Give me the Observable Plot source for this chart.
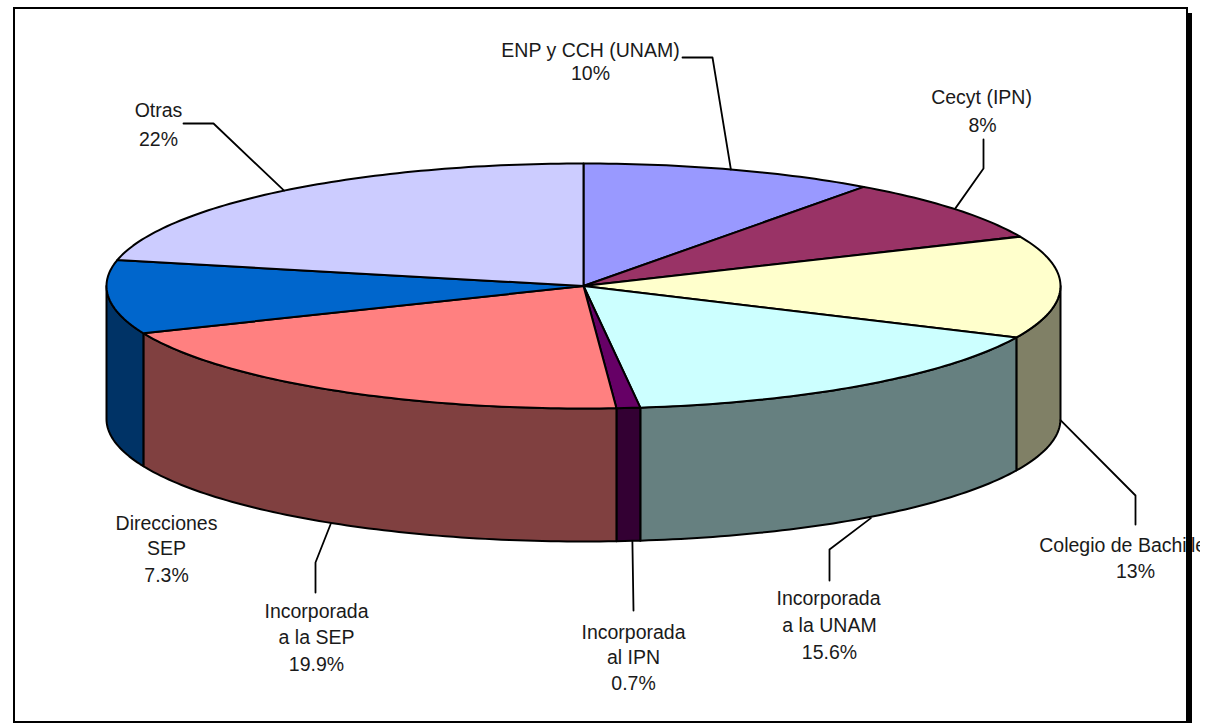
<!DOCTYPE html>
<html>
<head>
<meta charset="utf-8">
<script src="https://cdn.jsdelivr.net/npm/d3@7"></script>
<script src="https://cdn.jsdelivr.net/npm/@observablehq/plot@0.6"></script>
<style>
  html, body { margin: 0; padding: 0; background: #fff; overflow: hidden; }
  #chart { position: relative; width: 1205px; height: 723px; }
  #chart svg { display: block; position: absolute; left: 0; top: 0; }
  #frame { position: absolute; left: 13px; top: 7px; width: 1171px; height: 712px; border: 2px solid #000; }
  #shadow { position: absolute; left: 1186px; top: 13px; width: 6px; height: 710px; background: #000; }
</style>
</head>
<body>
<div id="chart"></div>
<script>
// Slices, clockwise from twelve o'clock.
const categories = ["ENP y CCH (UNAM)", "Cecyt (IPN)", "Colegio de Bachillerato", "Incorporada\na la UNAM", "Incorporada\nal IPN", "Incorporada\na la SEP", "Direcciones\nSEP", "Otras"];
// Percentages printed in the labels.
const printedPct = ["10%", "8%", "13%", "15.6%", "0.7%", "19.9%", "7.3%", "22%"];
const drawnShare = [10.0, 8.4, 13.5, 16.2, 0.8, 19.8, 9.7, 21.6];

const topColors  = ["#9999FF", "#993366", "#FFFFCC", "#CCFFFF", "#660066", "#FF8080", "#0066CC", "#CCCCFF"];
const sideColors = ["#4D4D80", "#4D1A33", "#808066", "#668080", "#330033", "#804040", "#003366", "#666680"];

// Layout, in page pixels: where the pie sits, and where each label and leader goes.
const pie = {cx: 583, cy: 285.5, rx: 477, ry: 122.5, depth: 133};
const leaderOnWall = [false, false, true, true, true, true, null, false];
const leaderNudge  = [0, 0, 0, 7, 4, -2, 0, 0];
const leaderBends  = [
  [[712, 57], [682, 57]],
  [[983, 168], [983, 139]],
  [[1135, 495], [1135, 524]],
  [[829, 549], [829, 580]],
  [[633, 610]],
  [[315, 562], [315, 592]],
  null,
  [[213, 123], [183, 123]]
];
const labelX = [[590, 590], [981, 982], [1139, 1135], [828, 829, 829], [633, 633, 633], [316, 316, 316], [166, 166, 166], [158, 158]];
const labelY = [[50, 73], [97, 125], [545, 571], [598, 625, 652], [632, 657, 683], [611, 637, 664], [523, 548, 575], [110, 139]];

const u = px => (px - pie.cx) / pie.rx;
const v = py => (pie.cy - py) / pie.ry;
const depthUnits = pie.depth / pie.ry;

const total = d3.sum(drawnShare);
const cumul = d3.cumsum(drawnShare);
const angle = p => (p / total) * 2 * Math.PI;
const slices = categories.map((name, i) => ({
  i, name,
  a0: angle(i ? cumul[i - 1] : 0),
  a1: angle(cumul[i])
}));

function arc(a0, a1) {
  const n = Math.max(2, Math.ceil((a1 - a0) / (Math.PI / 180)));
  return d3.range(n + 1).map(k => a0 + (a1 - a0) * k / n);
}

// Top faces: centre, rim arc, back to centre.
const topRows = slices.flatMap(s => [
  {x: 0, y: 0, id: s.i, fill: topColors[s.i]},
  ...arc(s.a0, s.a1).map(a => ({x: Math.sin(a), y: Math.cos(a), id: s.i, fill: topColors[s.i]})),
  {x: 0, y: 0, id: s.i, fill: topColors[s.i]}
]);

// Side walls: only the part of the rim facing the viewer.
const sideRows = slices.flatMap(s => {
  const a0 = Math.max(s.a0, Math.PI / 2), a1 = Math.min(s.a1, 3 * Math.PI / 2);
  if (a1 <= a0) return [];
  const angles = arc(a0, a1);
  const row = (a, drop) => ({x: Math.sin(a), y: Math.cos(a) - drop, id: s.i, fill: sideColors[s.i]});
  const first = angles.map(a => row(a, 0));
  const back = angles.slice().reverse().map(a => row(a, depthUnits));
  return [...first, ...back, first[0]];
});

// Leaders start on the rim at each slice's middle angle.
const leaderRows = slices.flatMap(s => {
  const bends = leaderBends[s.i];
  if (!bends) return [];
  const mid = (s.a0 + s.a1) / 2;
  const start = {
    x: Math.sin(mid) + leaderNudge[s.i] / pie.rx,
    y: Math.cos(mid) - (leaderOnWall[s.i] ? depthUnits : 0),
    id: s.i
  };
  return [start, ...bends.map(([px, py]) => ({x: u(px), y: v(py), id: s.i}))];
});

const labelRows = slices.flatMap(s => {
  const lines = [...s.name.split("\n"), printedPct[s.i]];
  return lines.map((text, k) => ({x: u(labelX[s.i][k]), y: v(labelY[s.i][k]), text}));
});

const W = 1200, H = 723;
const edge = {stroke: "#000", strokeWidth: 2, strokeLinejoin: "round"};
const fig = Plot.plot({
  width: W,
  height: H,
  margin: 0,
  style: {background: "#fff"},
  x: {domain: [u(0), u(W)], range: [0, W], axis: null},
  y: {domain: [v(H), v(0)], range: [H, 0], axis: null},
  color: {type: "identity"},
  marks: [
    Plot.line(sideRows, {x: "x", y: "y", z: "id", fill: "fill", ...edge}),
    Plot.line(topRows, {x: "x", y: "y", z: "id", fill: "fill", ...edge}),
    Plot.line(leaderRows, {x: "x", y: "y", z: "id", stroke: "#000", strokeWidth: 1.8}),
    Plot.text(labelRows, {x: "x", y: "y", text: "text", textAnchor: "middle", fontFamily: "'Liberation Sans', Arial, sans-serif", fontSize: 19.5, fill: "#1a1a1a"})
  ]
});
const host = document.getElementById("chart");
host.append(fig);
const frame = document.createElement("div"); frame.id = "frame"; host.append(frame);
const shadow = document.createElement("div"); shadow.id = "shadow"; host.append(shadow);
</script>
</body>
</html>
